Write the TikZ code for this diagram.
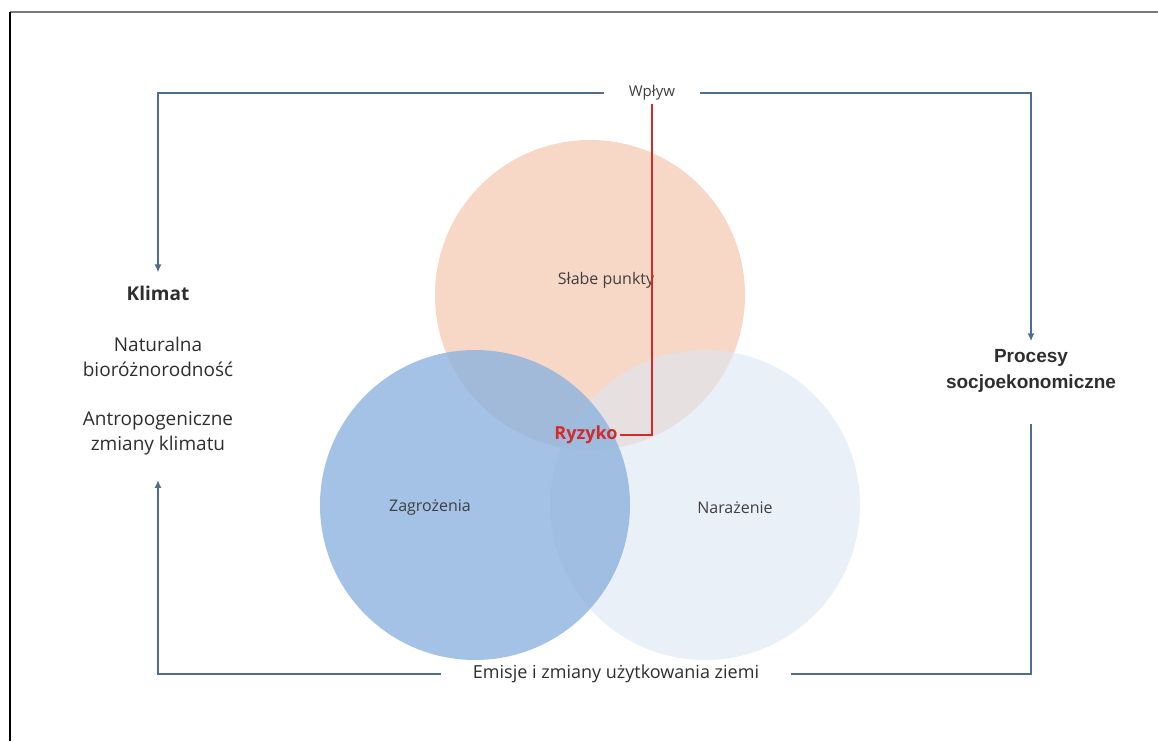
\documentclass[tikz,border=0pt]{standalone}
\usepackage{fontspec}
\setmainfont{Open Sans}
\newfontfamily\arialfont{Liberation Sans}
\usepackage{tikz}
\usetikzlibrary{arrows.meta}
\definecolor{frameGrey}{HTML}{7A7A7A}
\definecolor{flowSteel}{HTML}{4F6E8E}
\definecolor{riskRed}{HTML}{D22B2B}
\definecolor{textDark}{HTML}{2E2E2E}
\definecolor{textGrey}{HTML}{404040}
\definecolor{vulnPeach}{HTML}{F7D7C6}
\definecolor{hazBlue}{HTML}{8DB3DE}
\definecolor{expoBlue}{HTML}{DCE6F4}
\tikzset{
  venn/.style={circle, draw=none, minimum size=310pt, inner sep=0pt},
  vennlabel/.style={font=\fontsize{16}{19}\selectfont, text=textGrey, inner sep=1pt},
  sidetext/.style={font=\fontsize{19}{25}\selectfont, text=textDark, align=center, inner sep=1pt},
  flowline/.style={draw=flowSteel, line width=2.8pt},
  flowarrow/.style={flowline, -{Latex[length=8pt,width=7pt]}},
  risklink/.style={draw=riskRed, line width=2.4pt},
}
\begin{document}
\begin{tikzpicture}[x=1pt,y=-1pt]
  \useasboundingbox (0,0) rectangle (1158,741);
  \draw[frameGrey, line width=2pt] (10,12) -- (1158,12);
  \draw[black, line width=2pt] (10,12) -- (10,741);

  % three circles
  \node[venn, fill=vulnPeach] (slabe) at (590,295) {};
  \node[venn, fill=expoBlue, fill opacity=0.6] (narazenie) at (705,505) {};
  \node[venn, fill=hazBlue, fill opacity=0.8] (zagrozenia) at (475,505) {};

  \node[vennlabel] (slabeLbl) at (606,280) {Słabe punkty};
  \node[vennlabel] (zagrozeniaLbl) at (430,508) {Zagrożenia};
  \node[vennlabel] (narazenieLbl) at (735,508) {Narażenie};
  \node[font=\fontsize{18}{21}\selectfont\bfseries, text=riskRed, inner sep=2pt] (ryzyko) at (586,435) {Ryzyko};

  \node[font=\fontsize{15}{18}\selectfont, text=textGrey, inner xsep=25pt, inner ysep=3pt] (wplyw) at (652,93) {Wpływ};
  \node[font=\fontsize{18}{21}\selectfont, text=textDark, inner xsep=32pt, inner ysep=1pt] (emisje) at (616,674) {Emisje i zmiany użytkowania ziemi};

  \node[sidetext, font=\fontsize{19}{25}\selectfont\bfseries] (klimat) at (158,293) {Klimat};
  \node[sidetext] (naturalna) at (158,357) {Naturalna\\bioróżnorodność};
  \node[sidetext] (antropo) at (158,433) {Antropogeniczne\\zmiany klimatu};
  \node[sidetext, font=\fontsize{19}{26}\selectfont\arialfont\bfseries] (procesy) at (1031,371) {Procesy\\socjoekonomiczne};

  \draw[flowarrow, shorten >=12pt] (wplyw.west) -| (klimat.north);
  \draw[flowarrow, shorten >=7pt] (wplyw.east) -| (procesy.north);
  \draw[flowarrow, shorten >=24pt] (emisje.west) -| (antropo.south);
  \draw[flowline, shorten <=30pt] (procesy.south) |- (emisje.east);
  \draw[risklink] (wplyw.south) |- (ryzyko.east);
\end{tikzpicture}
\end{document}
